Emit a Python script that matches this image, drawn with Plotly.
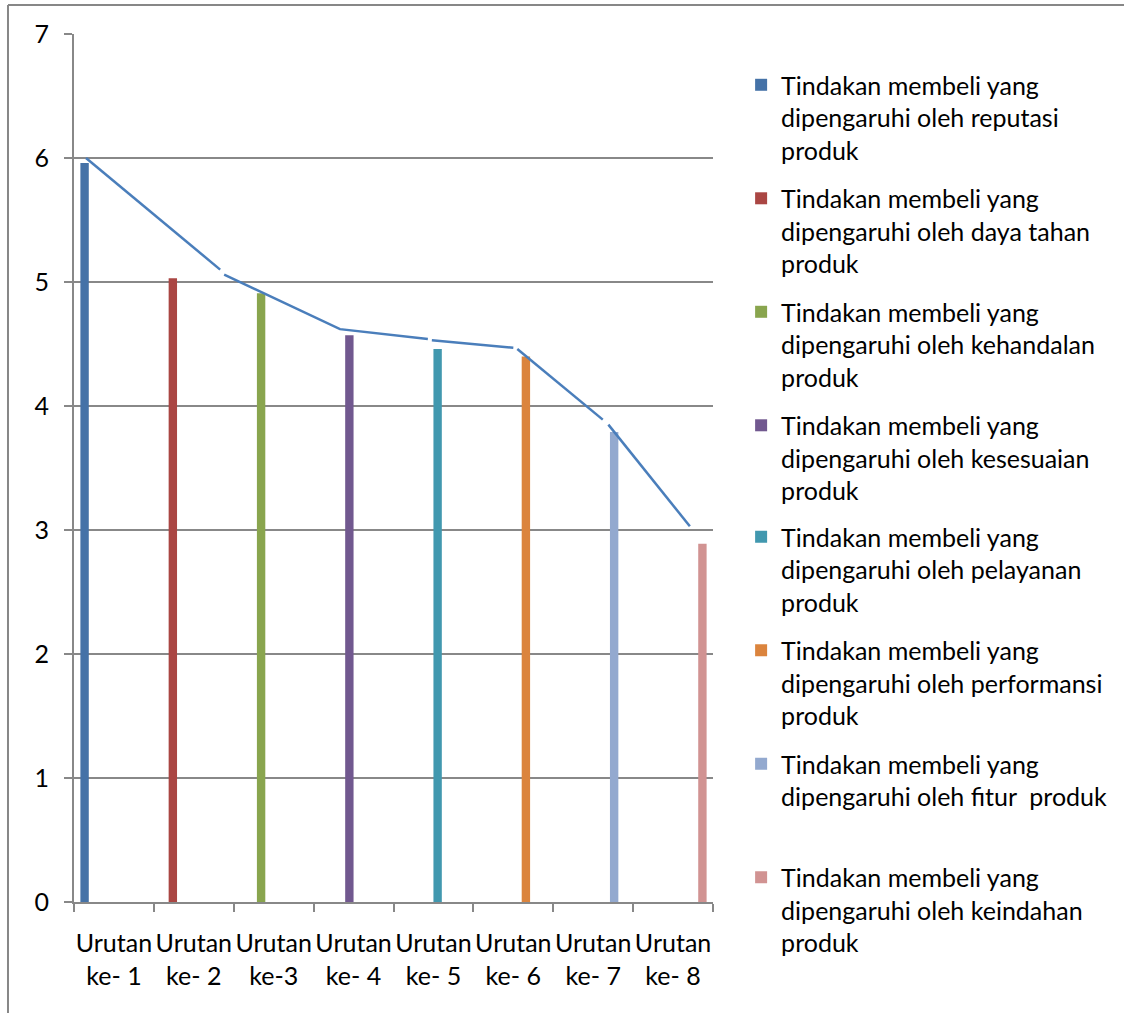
import plotly.graph_objects as go

categories = ["Urutan<br>ke- 1", "Urutan<br>ke- 2", "Urutan<br>ke-3", "Urutan<br>ke- 4",
              "Urutan<br>ke- 5", "Urutan<br>ke- 6", "Urutan<br>ke- 7", "Urutan<br>ke- 8"]
series_names = [
    "Tindakan membeli yang<br>dipengaruhi oleh reputasi<br>produk",
    "Tindakan membeli yang<br>dipengaruhi oleh daya tahan<br>produk",
    "Tindakan membeli yang<br>dipengaruhi oleh kehandalan<br>produk",
    "Tindakan membeli yang<br>dipengaruhi oleh kesesuaian<br>produk",
    "Tindakan membeli yang<br>dipengaruhi oleh pelayanan<br>produk",
    "Tindakan membeli yang<br>dipengaruhi oleh performansi<br>produk",
    "Tindakan membeli yang<br>dipengaruhi oleh fitur  produk<br> ",
    "Tindakan membeli yang<br>dipengaruhi oleh keindahan<br>produk",
]
values = [5.96, 5.03, 4.91, 4.57, 4.46, 4.40, 3.79, 2.89]
colors = ["#4572A7", "#AA4643", "#89A54E", "#71588F", "#4198AF", "#DB843D", "#93A9CF", "#D19392"]

# hand-drawn trend line (category units), with small gaps between segments
line_x = [-0.35, 1.33, None, 1.38, 2.83, 3.93, None, 3.98, 5.0, None, 5.05, 6.12, None, 6.19, 7.21]
line_y = [6.00, 5.10, None, 5.06, 4.62, 4.54, None, 4.53, 4.47, None, 4.46, 3.89, None, 3.85, 3.03]

FONT = "Lato"
FS = 25
fig = go.Figure()
for i, (name, v, c) in enumerate(zip(series_names, values, colors)):
    y = [None] * len(categories)
    y[i] = v
    fig.add_trace(go.Bar(x=categories, y=y, name=name, legendgroup=f"g{i}",
                         legend="legend" if i < 4 else "legend2",
                         marker=dict(color=c, line=dict(width=0))))

fig.add_trace(go.Scatter(x=line_x, y=line_y, mode="lines", xaxis="x2", showlegend=False,
                         line=dict(color="#4A7EBB", width=2.5), connectgaps=False))

grid = "#888888"
leg_common = dict(xanchor="left", yanchor="top", valign="top", font=dict(size=FS),
                  tracegroupgap=13, itemsizing="constant", bgcolor="rgba(0,0,0,0)")
fig.update_layout(
    width=1124, height=1013,
    margin=dict(l=74, r=411, t=34, b=111, autoexpand=False),
    paper_bgcolor="white", plot_bgcolor="white",
    barmode="group", bargap=0.16, bargroupgap=0,
    font=dict(family=FONT, size=FS, color="black"),
    xaxis=dict(type="category", range=[-0.5, 7.5], showgrid=False, showline=True, linecolor=grid, linewidth=2,
               ticks="outside", tickson="boundaries", ticklen=8, tickcolor=grid, tickwidth=2,
               tickangle=0, automargin=False,
               tickfont=dict(size=FS), ticklabelstandoff=18, fixedrange=True),
    xaxis2=dict(overlaying="x", range=[-0.5, 7.5], visible=False),
    yaxis=dict(range=[0, 7], dtick=1, showgrid=True, gridcolor=grid, gridwidth=2, showline=True,
               linecolor=grid, linewidth=2, ticks="outside", ticklen=8, tickcolor=grid, tickwidth=2,
               automargin=False,
               tickfont=dict(size=FS), ticklabelstandoff=10, zeroline=False),
    legend=dict(x=1.044, y=0.9677, **leg_common),
    legend2=dict(x=1.044, y=0.447, **leg_common),
    showlegend=True,
    shapes=[
        dict(type="line", xref="paper", yref="paper", x0=-0.1033, x1=1.7, y0=1.0334, y1=1.0334,
             line=dict(color="#878787", width=2)),
        dict(type="line", xref="paper", yref="paper", x0=-0.1033, x1=-0.1033, y0=1.0334, y1=-0.2,
             line=dict(color="#878787", width=2)),
    ],
)
fig.write_html("out.html")
